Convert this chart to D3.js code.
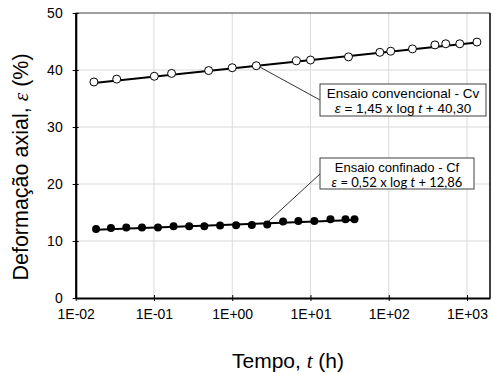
<!DOCTYPE html>
<html><head><meta charset="utf-8">
<script src="https://cdn.jsdelivr.net/npm/d3@7"></script>
<style>body{margin:0;background:#fff}svg{display:block}</style>
</head><body>
<script>
// Data
const cvTime = [0.0171, 0.0334, 0.101, 0.168, 0.50, 1.0, 2.03, 6.6, 10, 30.6, 77, 106, 201, 389, 535, 809, 1340];
const cvStrain = [37.9, 38.4, 38.9, 39.4, 39.9, 40.4, 40.75, 41.6, 41.75, 42.3, 43.1, 43.3, 43.7, 44.4, 44.6, 44.6, 44.9];
const cfTime = [0.0182, 0.0282, 0.0443, 0.0703, 0.1125, 0.178, 0.282, 0.44, 0.70, 1.12, 1.78, 2.8, 4.47, 7.0, 11.2, 18, 28, 36.5];
const cfStrain = [12.1, 12.3, 12.35, 12.35, 12.35, 12.6, 12.6, 12.6, 12.7, 12.75, 12.8, 12.9, 13.4, 13.5, 13.5, 13.8, 13.8, 13.8];
const cvFit = [1.45, 40.30];   // slope, intercept
const cfFit = [0.52, 12.86];
const xTicks = [0.01, 0.1, 1, 10, 100, 1000];
const xTickLabels = ["1E-02", "1E-01", "1E+00", "1E+01", "1E+02", "1E+03"];
const yTicks = [0, 10, 20, 30, 40, 50];

const W = 493, H = 375;
const pL = 75.7, pR = 490, pT = 13, pB = 298;
const svg = d3.select("body").append("svg").attr("width", W).attr("height", H);

const xMax = Math.pow(10, 3 + (pR - 467) / ((467 - pL) / 5));
const x = d3.scaleLog().domain([0.01, xMax]).range([pL, pR]);
const y = d3.scaleLinear().domain([0, 50]).range([pB, pT]);

// gridlines
svg.append("g").selectAll("line").data(xTicks.slice(1)).join("line")
  .attr("x1", d => x(d)).attr("x2", d => x(d)).attr("y1", pT).attr("y2", pB)
  .attr("stroke", "#d9d9d9").attr("stroke-width", 1);
svg.append("g").selectAll("line").data(yTicks.slice(1, -1)).join("line")
  .attr("x1", pL).attr("x2", pR).attr("y1", d => y(d)).attr("y2", d => y(d))
  .attr("stroke", "#d9d9d9").attr("stroke-width", 1);

// frame top/right
svg.append("line").attr("x1", pL).attr("x2", pR).attr("y1", pT).attr("y2", pT).attr("stroke", "#404040").attr("stroke-width", 1);
svg.append("line").attr("x1", pR).attr("x2", pR).attr("y1", pT).attr("y2", pB).attr("stroke", "#000").attr("stroke-width", 1.5);

// axes
const xAxis = d3.axisBottom(x).tickValues(xTicks).tickFormat((d, i) => xTickLabels[i]).tickSizeInner(3).tickSizeOuter(0).tickPadding(8);
const gx = svg.append("g").attr("transform", `translate(0,${pB})`).call(xAxis);
gx.select(".domain").attr("stroke", "#000").attr("stroke-width", 2.2);
gx.selectAll(".tick line").attr("y1", -3).attr("stroke", "#000").attr("stroke-width", 1);
gx.selectAll("text").attr("font-family", "Liberation Sans, Arial, sans-serif").attr("font-size", 14).attr("fill", "#000");

const yAxis = d3.axisLeft(y).tickValues(yTicks).tickSizeInner(3).tickSizeOuter(0).tickPadding(10);
const gy = svg.append("g").attr("transform", `translate(${pL},0)`).call(yAxis);
gy.select(".domain").attr("stroke", "#000").attr("stroke-width", 2.2);
gy.selectAll(".tick line").attr("x2", 3).attr("x1", -3).attr("stroke", "#000").attr("stroke-width", 1);
gy.selectAll("text").attr("font-family", "Liberation Sans, Arial, sans-serif").attr("font-size", 14).attr("fill", "#000");

// trend lines
function fitLine(fit, times) {
  const t0 = d3.min(times), t1 = d3.max(times);
  return [t0, t1].map(t => [x(t), y(fit[0] * Math.log10(t) + fit[1])]);
}
svg.append("path").attr("d", d3.line()(fitLine(cvFit, cvTime))).attr("stroke", "#000").attr("stroke-width", 2).attr("fill", "none");
svg.append("path").attr("d", d3.line()(fitLine(cfFit, cfTime))).attr("stroke", "#000").attr("stroke-width", 2).attr("fill", "none");

// leader lines (callouts)
svg.append("line").attr("x1", x(cvTime[6]) + 3).attr("y1", y(cvStrain[6]) + 1).attr("x2", 320).attr("y2", 100).attr("stroke", "#000").attr("stroke-width", 0.8);
svg.append("line").attr("x1", x(cfTime[11])).attr("y1", y(cfStrain[11]) - 2).attr("x2", 320).attr("y2", 174).attr("stroke", "#000").attr("stroke-width", 0.8);

// markers
svg.append("g").selectAll("circle").data(cvTime).join("circle")
  .attr("cx", d => x(d)).attr("cy", (d, i) => y(cvStrain[i])).attr("r", 4)
  .attr("fill", "#fff").attr("stroke", "#000").attr("stroke-width", 1);
svg.append("g").selectAll("circle").data(cfTime).join("circle")
  .attr("cx", d => x(d)).attr("cy", (d, i) => y(cfStrain[i])).attr("r", 4)
  .attr("fill", "#000");

// callout boxes
function box(x0, y0, w, h, fs, line1, eqParts, eqFont) {
  const g = svg.append("g");
  g.append("rect").attr("x", x0).attr("y", y0).attr("width", w).attr("height", h)
    .attr("fill", "#fff").attr("stroke", "#404040").attr("stroke-width", 1);
  g.append("text").attr("x", x0 + w / 2).attr("y", y0 + 14).attr("text-anchor", "middle")
    .attr("font-family", "Liberation Sans, Arial, sans-serif").attr("font-size", fs).attr("fill", "#000").text(line1);
  const t = g.append("text").attr("x", x0 + w / 2).attr("y", y0 + 28.5).attr("text-anchor", "middle")
    .attr("font-family", eqFont).attr("font-size", fs).attr("fill", "#000");
  eqParts.forEach(p => t.append("tspan").attr("font-style", p[1] ? "italic" : "normal").text(p[0]));
}
box(320, 84, 166, 32, 13.5, "Ensaio convencional - Cv",
  [["ε", true], [" = 1,45 x log ", false], ["t", true], [" + 40,30", false]], "Liberation Sans, Arial, sans-serif");
box(320, 158, 154, 31, 13, "Ensaio confinado - Cf",
  [["ε", true], [" = 0,52 x log ", false], ["t", true], [" + 12,86", false]], "Lato, Open Sans, sans-serif");

// axis titles
const yt = svg.append("text").attr("transform", "translate(28,167) rotate(-90)").attr("text-anchor", "middle")
  .attr("font-family", "Liberation Sans, Arial, sans-serif").attr("font-size", 21.5).attr("fill", "#000");
yt.append("tspan").text("Deformação axial, ");
yt.append("tspan").attr("font-family", "Liberation Serif, Times New Roman, serif").attr("font-style", "italic").text("ε");
yt.append("tspan").text(" (%)");

const xt = svg.append("text").attr("x", 288).attr("y", 368).attr("text-anchor", "middle")
  .attr("font-family", "Liberation Sans, Arial, sans-serif").attr("font-size", 21).attr("fill", "#000");
xt.append("tspan").text("Tempo, ");
xt.append("tspan").attr("font-family", "Liberation Serif, Times New Roman, serif").attr("font-style", "italic").text("t");
xt.append("tspan").text(" (h)");
</script>
</body></html>
